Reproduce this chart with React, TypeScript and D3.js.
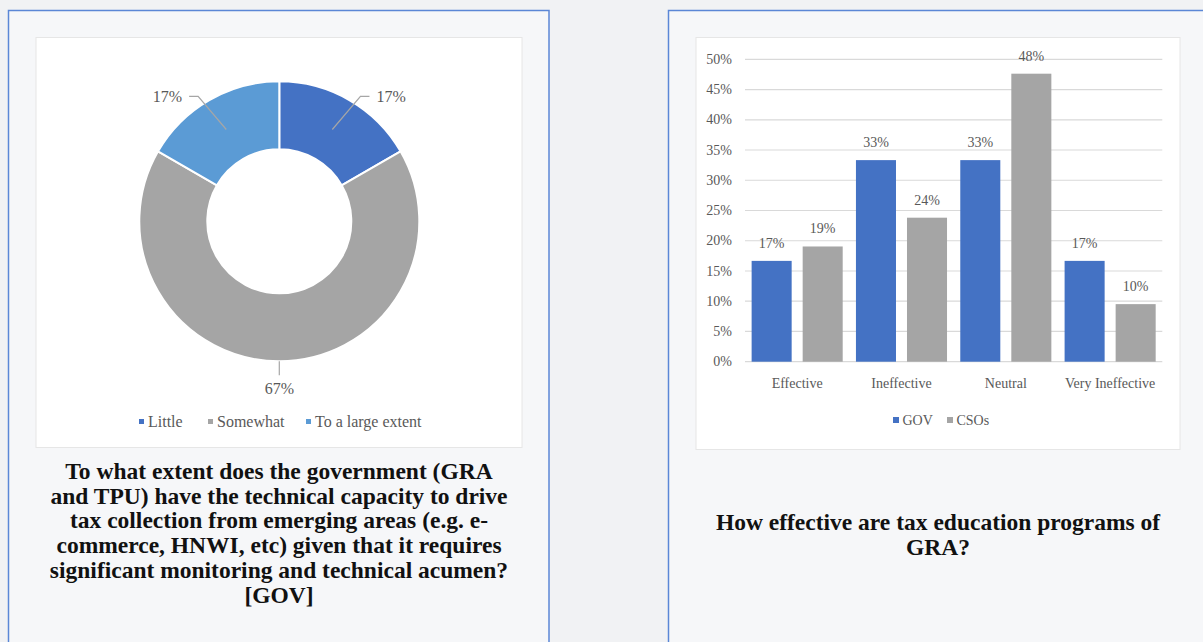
import React from "react";
import * as d3 from "d3";

const W = 1203;
const H = 642;

// Donut data
const donutCategories = ["Little", "Somewhat", "To a large extent"];
const donutValues = [16.67, 66.67, 16.67];
const donutColors = ["#4472C4", "#A5A5A5", "#5B9BD5"];
const leftCaption = [
  "To what extent does the government (GRA",
  "and TPU) have the technical capacity to drive",
  "tax collection from emerging areas (e.g. e-",
  "commerce, HNWI, etc) given that it requires",
  "significant monitoring and technical acumen?",
  "[GOV]",
];

// Bar data
const barCategories = ["Effective", "Ineffective", "Neutral", "Very Ineffective"];
const barSeries = ["GOV", "CSOs"];
const govValues = [16.67, 33.33, 33.33, 16.67];
const csoValues = [19.05, 23.81, 47.62, 9.52];
const barColors = ["#4472C4", "#A5A5A5"];
const yTicks = [0, 5, 10, 15, 20, 25, 30, 35, 40, 45, 50];
const rightCaption = ["How effective are tax education programs of", "GRA?"];

const FONT = "'Liberation Serif', 'Times New Roman', serif";
const LABEL = "#595959";

function Donut() {
  const cx = 279.3;
  const cy = 221.3;
  const rOuter = 140;
  const rInner = 72;
  const pie = d3.pie<number>().sort(null).value((d) => d);
  const arcs = pie(donutValues);
  const arc = d3.arc<d3.PieArcDatum<number>>().innerRadius(rInner).outerRadius(rOuter);
  const fmt = (v: number) => `${Math.round(v)}%`;

  return (
    <g>
      <g transform={`translate(${cx},${cy})`}>
        {arcs.map((a, i) => (
          <path key={i} d={arc(a) || ""} fill={donutColors[i]} stroke="#ffffff" strokeWidth={2} />
        ))}
        {arcs.map((a, i) => {
          const mid = (a.startAngle + a.endAngle) / 2;
          if (i === 1) {
            const y0 = rOuter;
            return (
              <g key={"l" + i}>
                <line x1={0} x2={0} y1={y0} y2={y0 + 14} stroke="#A6A6A6" strokeWidth={1.2} />
                <text x={0} y={y0 + 33} textAnchor="middle" fontFamily={FONT} fontSize={16} fill={LABEL}>
                  {fmt(donutValues[i])}
                </text>
              </g>
            );
          }
          const [sx, sy] = arc.centroid(a);
          const side = Math.sin(mid) >= 0 ? 1 : -1;
          const ang = mid + side * (3 * Math.PI) / 180;
          const ex = Math.sin(ang) * 149;
          const ey = -Math.cos(ang) * 149;
          const hx = ex + side * 9;
          return (
            <g key={"l" + i}>
              <polyline
                points={`${sx},${sy} ${ex},${ey} ${hx},${ey}`}
                fill="none"
                stroke="#A6A6A6"
                strokeWidth={1.2}
              />
              <text
                x={hx + side * 7}
                y={ey + 6}
                textAnchor={side > 0 ? "start" : "end"}
                fontFamily={FONT}
                fontSize={16}
                fill={LABEL}
              >
                {fmt(donutValues[i])}
              </text>
            </g>
          );
        })}
      </g>
      {/* legend */}
      {(() => {
        const xs = [139, 208, 306];
        return donutCategories.map((c, i) => (
          <g key={c}>
            <rect x={xs[i]} y={419} width={5} height={5} fill={donutColors[i]} />
            <text x={xs[i] + 9} y={427} fontFamily={FONT} fontSize={16} fill={LABEL}>
              {c}
            </text>
          </g>
        ));
      })()}
    </g>
  );
}

function Bars() {
  const x0 = d3.scaleBand<string>().domain(barCategories).range([745, 1162.3]).paddingInner(0.127).paddingOuter(0.0635);
  const x1 = d3.scaleBand<string>().domain(barSeries).range([0, x0.bandwidth()]).paddingInner(11 / 51);
  const y = d3.scaleLinear().domain([0, 50]).range([361.7, 59.3]);
  const seriesValues = [govValues, csoValues];
  return (
    <g>
      {yTicks.map((t) => (
        <g key={t}>
          <line x1={745} x2={1162.3} y1={y(t)} y2={y(t)} stroke="#D9D9D9" strokeWidth={1.2} />
          <text x={732} y={y(t) + 4.7} textAnchor="end" fontFamily={FONT} fontSize={14} fill={LABEL}>
            {t}%
          </text>
        </g>
      ))}
      {barCategories.map((c, ci) => (
        <g key={c}>
          {barSeries.map((s, si) => {
            const v = seriesValues[si][ci];
            const bx = (x0(c) || 0) + (x1(s) || 0);
            return (
              <g key={s}>
                <rect x={bx} y={y(v)} width={x1.bandwidth()} height={y(0) - y(v)} fill={barColors[si]} />
                <text
                  x={bx + x1.bandwidth() / 2}
                  y={y(v) - 13}
                  textAnchor="middle"
                  fontFamily={FONT}
                  fontSize={14}
                  fill={LABEL}
                >
                  {Math.round(v)}%
                </text>
              </g>
            );
          })}
          <text
            x={(x0(c) || 0) + x0.bandwidth() / 2}
            y={388}
            textAnchor="middle"
            fontFamily={FONT}
            fontSize={14}
            fill={LABEL}
          >
            {c}
          </text>
        </g>
      ))}
      {(() => {
        const xs = [893, 947];
        return barSeries.map((s, i) => (
          <g key={s}>
            <rect x={xs[i]} y={417} width={6} height={6} fill={barColors[i]} />
            <text x={xs[i] + 9.5} y={425} fontFamily={FONT} fontSize={14} fill={LABEL}>
              {s}
            </text>
          </g>
        ));
      })()}
    </g>
  );
}

export default function App() {
  return (
    <div style={{ position: "absolute", left: 0, top: 0, width: W, height: H }}>
      <svg width={W} height={H} style={{ display: "block" }}>
        <rect x={0} y={0} width={W} height={H} fill="#F1F2F4" />
        {/* panels */}
        <rect x={8.5} y={10.5} width={540.5} height={H} fill="#F6F7F9" stroke="#5B87D6" strokeWidth={1.5} />
        <rect x={668.5} y={10.5} width={560} height={H} fill="#F6F7F9" stroke="#5B87D6" strokeWidth={1.5} />
        {/* chart areas */}
        <rect x={36} y={37.5} width={486} height={410} fill="#FFFFFF" stroke="#E6E6E6" strokeWidth={1} />
        <rect x={696} y={37.5} width={484} height={412} fill="#FFFFFF" stroke="#E6E6E6" strokeWidth={1} />
        <Donut />
        <Bars />
        {leftCaption.map((l, i) => (
          <text
            key={i}
            x={279}
            y={479 + i * 24.7}
            textAnchor="middle"
            fontFamily={FONT}
            fontWeight="bold"
            fontSize={23.5}
            fill="#111111"
          >
            {l}
          </text>
        ))}
        {rightCaption.map((l, i) => (
          <text
            key={i}
            x={938}
            y={530 + i * 24.7}
            textAnchor="middle"
            fontFamily={FONT}
            fontWeight="bold"
            fontSize={23.5}
            fill="#111111"
          >
            {l}
          </text>
        ))}
      </svg>
    </div>
  );
}
